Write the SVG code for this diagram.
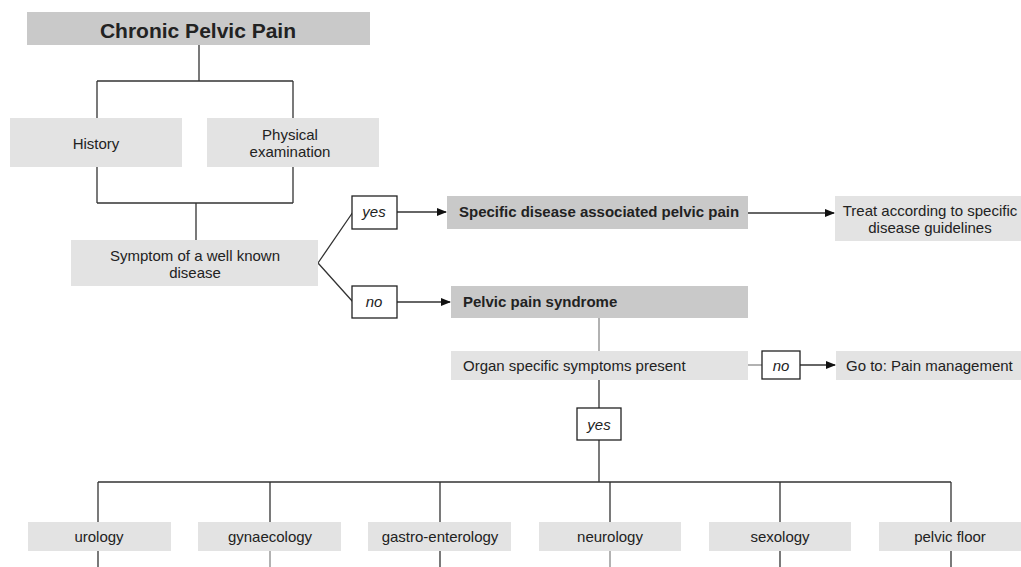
<svg xmlns="http://www.w3.org/2000/svg" width="1021" height="567" viewBox="0 0 1021 567">
<style>
.lt{fill:#e3e3e3}
.dk{fill:#c9c9c9}
.lb{fill:#fff;stroke:#222;stroke-width:1.3}
text{font-family:"Liberation Sans",Arial,sans-serif;font-size:15px;fill:#222}
.c{text-anchor:middle}
.b{font-weight:bold}
.i{font-style:italic}
.ln{fill:none;stroke:#333;stroke-width:1.3}
.gl{fill:none;stroke:#999;stroke-width:1.5}
</style>
<defs>
<marker id="ah" markerWidth="10" markerHeight="8" refX="9" refY="4" orient="auto" markerUnits="userSpaceOnUse">
<path d="M0,0 L10,4 L0,8 Z" fill="#111"/>
</marker>
</defs>
<g id="connectors">
<path class="ln" d="M199,45 V81 M97,81 H293 M97,81 V118 M293,81 V118"/>
<path class="ln" d="M97,167 V203 M293,167 V203 M97,203 H293 M196,203 V240"/>
<path class="ln" d="M318,263 L353,212 M318,263 L353,302"/>
<path class="ln" d="M397,212 H446" marker-end="url(#ah)"/>
<path class="ln" d="M397,302 H450" marker-end="url(#ah)"/>
<path class="ln" d="M748,213 H834" marker-end="url(#ah)"/>
<path class="gl" d="M599,318 V351"/>
<path class="gl" d="M748,365 H762"/>
<path class="ln" d="M800,365 H835" marker-end="url(#ah)"/>
<path class="ln" d="M599,380 V408 M599,440 V482 M98,482 H951"/>
<path class="ln" d="M98,482 V522 M270,482 V522 M440,482 V522 M610,482 V522 M780,482 V522 M951,482 V522"/>
<path class="ln" d="M98,551 V567 M440,551 V567 M780,551 V567 M951,551 V567"/>
<path class="gl" d="M270,551 V567 M610,551 V567"/>
</g>
<g id="n-title"><rect class="dk" x="27" y="12" width="343" height="33"/><text class="c b" x="198" y="38" style="font-size:21px">Chronic Pelvic Pain</text></g>
<g id="n-history"><rect class="lt" x="10" y="118" width="172" height="49"/><text class="c" x="96" y="149">History</text></g>
<g id="n-physical"><rect class="lt" x="207" y="118" width="172" height="49"/><text class="c" x="290" y="140">Physical</text><text class="c" x="290" y="157">examination</text></g>
<g id="n-symptom"><rect class="lt" x="71" y="240" width="247" height="46"/><text class="c" x="195" y="261">Symptom of a well known</text><text class="c" x="195" y="278">disease</text></g>
<g id="n-yes1"><rect class="lb" x="352" y="196" width="45" height="33"/><text class="c i" x="374" y="217">yes</text></g>
<g id="n-no1"><rect class="lb" x="352" y="286" width="45" height="32"/><text class="c i" x="374" y="307">no</text></g>
<g id="n-specific"><rect class="dk" x="447" y="196" width="301" height="33"/><text class="b" x="459" y="217">Specific disease associated pelvic pain</text></g>
<g id="n-treat"><rect class="lt" x="835" y="196" width="195" height="45"/><text class="c" x="930" y="216">Treat according to specific</text><text class="c" x="930" y="233">disease guidelines</text></g>
<g id="n-pps"><rect class="dk" x="451" y="286" width="297" height="32"/><text class="b" x="463" y="307">Pelvic pain syndrome</text></g>
<g id="n-organ"><rect class="lt" x="451" y="351" width="297" height="29"/><text x="463" y="371">Organ specific symptoms present</text></g>
<g id="n-no2"><rect class="lb" x="762" y="351" width="38" height="28"/><text class="c i" x="781" y="371">no</text></g>
<g id="n-goto"><rect class="lt" x="836" y="351" width="190" height="29"/><text x="846" y="371">Go to: Pain management</text></g>
<g id="n-yes2"><rect class="lb" x="577" y="408" width="44" height="32"/><text class="c i" x="599" y="430">yes</text></g>
<g id="n-urology"><rect class="lt" x="28" y="522" width="143" height="29"/><text class="c" x="99" y="542">urology</text></g>
<g id="n-gyn"><rect class="lt" x="198" y="522" width="143" height="29"/><text class="c" x="270" y="542">gynaecology</text></g>
<g id="n-gastro"><rect class="lt" x="368" y="522" width="143" height="29"/><text class="c" x="440" y="542">gastro-enterology</text></g>
<g id="n-neuro"><rect class="lt" x="539" y="522" width="142" height="29"/><text class="c" x="610" y="542">neurology</text></g>
<g id="n-sex"><rect class="lt" x="709" y="522" width="142" height="29"/><text class="c" x="780" y="542">sexology</text></g>
<g id="n-pelvic"><rect class="lt" x="879" y="522" width="143" height="29"/><text class="c" x="950" y="542">pelvic floor</text></g>
</svg>
